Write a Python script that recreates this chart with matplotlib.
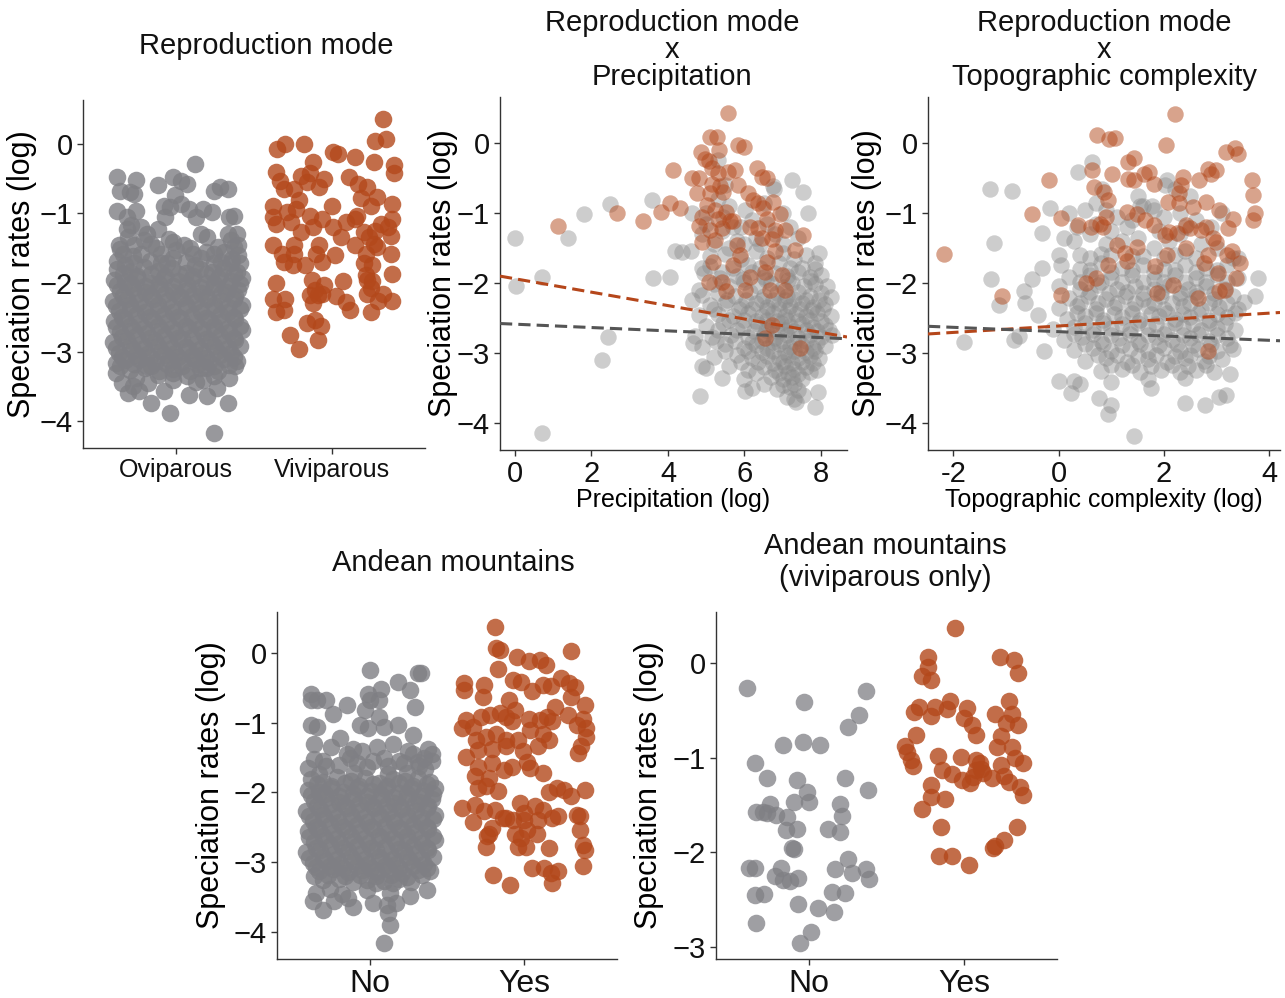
import matplotlib
matplotlib.use('Agg')
import matplotlib.pyplot as plt
import numpy as np

plt.rcParams['font.family'] = ['Liberation Sans', 'DejaVu Sans']

GRAY = '#7f7f84'
ORANGE = '#b3481b'

# ---- data: jittered category panels (offset from category, log rate) ----
# dense core shared by the oviparous / non-Andean clouds
core = [
    (-0.38, -1.80), (-0.30, -1.85), (-0.21, -1.78), (-0.12, -1.83), (-0.03, -1.79), (0.06, -1.86), (0.15, -1.80), (0.23, -1.84), (0.31, -1.79), (0.39, -1.85),
    (-0.40, -1.96), (-0.33, -1.99), (-0.25, -1.93), (-0.17, -2.00), (-0.08, -1.94), (0.01, -1.98), (0.10, -1.95), (0.19, -2.01), (0.27, -1.94), (0.35, -1.98), (0.42, -1.93),
    (-0.36, -2.12), (-0.28, -2.08), (-0.20, -2.14), (-0.11, -2.09), (-0.02, -2.13), (0.07, -2.10), (0.16, -2.15), (0.24, -2.08), (0.32, -2.13), (0.40, -2.10),
    (-0.41, -2.27), (-0.32, -2.24), (-0.24, -2.28), (-0.15, -2.23), (-0.06, -2.27), (0.03, -2.22), (0.12, -2.28), (0.20, -2.24), (0.29, -2.27), (0.37, -2.23),
    (-0.37, -2.41), (-0.29, -2.38), (-0.20, -2.43), (-0.11, -2.39), (-0.02, -2.42), (0.07, -2.37), (0.16, -2.43), (0.25, -2.39), (0.33, -2.42), (0.41, -2.38),
    (-0.40, -2.56), (-0.33, -2.53), (-0.24, -2.58), (-0.15, -2.54), (-0.06, -2.57), (0.03, -2.52), (0.12, -2.58), (0.21, -2.54), (0.29, -2.57), (0.38, -2.53),
    (-0.36, -2.71), (-0.28, -2.68), (-0.19, -2.73), (-0.10, -2.69), (-0.01, -2.72), (0.08, -2.67), (0.17, -2.73), (0.25, -2.69), (0.34, -2.72), (0.42, -2.68),
    (-0.41, -2.86), (-0.32, -2.83), (-0.23, -2.88), (-0.14, -2.84), (-0.05, -2.87), (0.04, -2.82), (0.13, -2.88), (0.22, -2.84), (0.30, -2.87), (0.38, -2.83),
    (-0.37, -3.01), (-0.28, -2.98), (-0.19, -3.03), (-0.10, -2.99), (-0.01, -3.02), (0.08, -2.97), (0.17, -3.03), (0.26, -2.99), (0.35, -3.02),
    (-0.33, -3.12), (-0.24, -3.10), (-0.14, -3.14), (-0.05, -3.11), (0.04, -3.13), (0.12, -3.10), (0.21, -3.15), (0.31, -3.11), (0.39, -3.13),
    (-0.30, -3.26), (-0.20, -3.24), (-0.11, -3.28), (-0.02, -3.25), (0.09, -3.27), (0.19, -3.24), (0.27, -3.28),
    (-0.26, -3.38), (-0.02, -3.40), (0.13, -3.44), (-0.18, -3.45),
]
core_fill = [
    (-0.34, -1.88), (-0.25, -1.90), (-0.16, -1.87), (-0.07, -1.90), (0.02, -1.88), (0.11, -1.91), (0.19, -1.87), (0.28, -1.90), (0.37, -1.88),
    (-0.38, -2.04), (-0.29, -2.02), (-0.20, -2.05), (-0.11, -2.02), (-0.02, -2.05), (0.07, -2.03), (0.15, -2.06), (0.24, -2.02), (0.33, -2.05), (0.41, -2.02),
    (-0.34, -2.19), (-0.25, -2.17), (-0.16, -2.20), (-0.07, -2.17), (0.02, -2.20), (0.11, -2.18), (0.20, -2.21), (0.29, -2.17), (0.38, -2.20),
    (-0.39, -2.34), (-0.30, -2.32), (-0.21, -2.35), (-0.12, -2.32), (-0.03, -2.35), (0.06, -2.33), (0.15, -2.36), (0.24, -2.32), (0.33, -2.35), (0.42, -2.33),
    (-0.35, -2.49), (-0.26, -2.47), (-0.17, -2.50), (-0.08, -2.47), (0.01, -2.50), (0.10, -2.48), (0.19, -2.51), (0.28, -2.47), (0.37, -2.50),
    (-0.39, -2.64), (-0.30, -2.62), (-0.21, -2.65), (-0.12, -2.62), (-0.03, -2.65), (0.06, -2.63), (0.15, -2.66), (0.24, -2.62), (0.33, -2.65), (0.41, -2.62),
    (-0.35, -2.79), (-0.26, -2.77), (-0.17, -2.80), (-0.08, -2.77), (0.01, -2.80), (0.10, -2.78), (0.19, -2.81), (0.28, -2.77), (0.37, -2.80),
    (-0.39, -2.94), (-0.30, -2.92), (-0.21, -2.95), (-0.12, -2.92), (-0.03, -2.95), (0.06, -2.93), (0.15, -2.96), (0.24, -2.92), (0.33, -2.95), (0.41, -2.92),
    (-0.35, -3.07), (-0.26, -3.05), (-0.17, -3.08), (-0.08, -3.05), (0.01, -3.08), (0.10, -3.06), (0.19, -3.09), (0.28, -3.05), (0.37, -3.08),
    (-0.36, -3.20), (-0.27, -3.18), (-0.16, -3.20), (-0.06, -3.18), (0.04, -3.20), (0.14, -3.18), (0.24, -3.21), (0.34, -3.19),
    (-0.36, -1.52), (-0.28, -1.62), (-0.13, -1.50), (-0.02, -1.64), (0.09, -1.50), (0.19, -1.55), (0.31, -1.56), (0.40, -1.45), (-0.33, -1.74),
    (-0.10, -1.72), (0.12, -1.74), (0.24, -1.72), (0.36, -1.66),
]

ovi_outer = [
    (0.12, -0.28), (-0.38, -0.48), (-0.26, -0.52), (-0.36, -0.67), (-0.30, -0.69), (-0.27, -0.72), (-0.12, -0.59), (-0.02, -0.47), (0.03, -0.53), (0.07, -0.58),
    (-0.01, -0.74), (0.24, -0.67), (0.28, -0.62), (0.33, -0.65), (-0.38, -0.96), (-0.26, -0.96), (-0.32, -1.05), (-0.29, -1.17), (-0.08, -0.89), (-0.04, -0.91),
    (0.03, -0.86), (0.08, -0.93), (0.17, -0.93), (0.23, -0.98), (-0.07, -1.05), (0.13, -1.05), (0.37, -1.03), (0.34, -1.05), (-0.32, -1.22), (-0.23, -1.20),
    (-0.19, -1.29), (-0.12, -1.22), (-0.31, -1.34), (-0.37, -1.46), (-0.27, -1.46), (-0.21, -1.39), (-0.16, -1.44), (-0.05, -1.37), (-0.02, -1.41), (0.05, -1.46),
    (0.16, -1.29), (0.20, -1.34), (0.33, -1.29), (0.39, -1.29), (0.35, -1.39), (0.27, -1.49), (0.37, -1.49), (-0.34, -1.58), (-0.23, -1.58), (-0.10, -1.58),
    (0.00, -1.53), (0.11, -1.58), (0.24, -1.58), (0.40, -1.60), (-0.38, -1.68), (-0.27, -1.72), (-0.17, -1.68), (-0.06, -1.72), (0.06, -1.70), (0.16, -1.65),
    (0.29, -1.70), (0.35, -1.72), (0.41, -1.72),
    (0.24, -4.17), (-0.04, -3.89), (-0.16, -3.74), (0.33, -3.74), (0.08, -3.62), (0.20, -3.64), (0.26, -3.52), (-0.08, -3.57), (-0.31, -3.59), (-0.24, -3.57),
    (-0.28, -3.50), (-0.35, -3.45), (0.07, -3.35), (0.17, -3.40), (0.24, -3.35), (0.34, -3.38), (0.38, -3.21), (-0.39, -3.31), (-0.12, -3.33), (-0.02, -3.31),
    (-0.19, -3.21), (-0.39, -3.16), (0.15, -3.23),
]

vivi = [
    (0.33, 0.37), (0.28, 0.05), (0.35, 0.07), (-0.35, -0.07), (-0.30, 0.01), (-0.18, 0.01), (0.01, -0.11), (0.04, -0.14), (0.15, -0.18), (0.27, -0.25),
    (0.40, -0.30), (0.40, -0.41), (-0.12, -0.25), (-0.36, -0.40), (-0.33, -0.53), (-0.31, -0.65), (-0.20, -0.46), (-0.14, -0.41), (-0.16, -0.55), (-0.05, -0.50),
    (0.11, -0.47), (0.17, -0.57), (0.23, -0.62), (0.29, -0.76), (0.19, -0.77), (0.25, -0.89), (-0.24, -0.65), (-0.21, -0.81), (-0.23, -0.93), (-0.38, -0.89),
    (0.39, -0.86), (0.00, -0.89), (-0.08, -0.62), (-0.38, -1.05), (-0.36, -1.15), (-0.29, -0.98), (-0.26, -1.13), (-0.14, -1.03), (-0.06, -1.08), (0.01, -1.20),
    (0.09, -1.13), (0.15, -1.08), (0.16, -1.03), (0.32, -1.15), (0.39, -1.08), (0.36, -1.20), (0.21, -1.27), (0.28, -1.25), (0.24, -1.34), (-0.12, -1.20),
    (-0.20, -1.27), (0.06, -1.34), (0.38, -1.33), (-0.38, -1.46), (-0.24, -1.46), (-0.08, -1.46), (0.15, -1.46), (0.27, -1.44), (0.29, -1.49), (-0.32, -1.58),
    (-0.24, -1.58), (-0.10, -1.58), (0.02, -1.60), (0.22, -1.58), (0.38, -1.58), (-0.31, -1.70), (-0.25, -1.75), (-0.17, -1.75), (-0.06, -1.70), (0.21, -1.72),
    (0.26, -1.75), (0.39, -1.87), (-0.13, -1.96), (0.07, -1.97), (0.22, -1.89), (0.23, -1.96), (0.26, -1.97), (-0.36, -2.01), (-0.11, -2.11), (-0.05, -2.04),
    (0.25, -2.08), (0.23, -2.16), (-0.14, -2.18), (-0.09, -2.18), (-0.06, -2.16), (0.03, -2.20), (0.09, -2.28), (0.33, -2.16), (0.30, -2.26), (0.39, -2.26),
    (-0.38, -2.23), (-0.30, -2.23), (-0.12, -2.30), (0.12, -2.40), (0.25, -2.42), (-0.36, -2.42), (-0.31, -2.40), (-0.16, -2.59), (-0.11, -2.54), (-0.07, -2.63),
    (-0.27, -2.75), (-0.09, -2.83), (-0.21, -2.96),
]

# Andean mountains (all species)
andes_no_extra = [
    (0.00, -0.24), (0.31, -0.29), (0.33, -0.28), (0.18, -0.41), (0.26, -0.53), (0.29, -0.77), (0.07, -0.52), (-0.01, -0.58), (0.00, -0.67), (0.06, -0.67),
    (-0.03, -0.82), (-0.06, -1.03), (-0.01, -1.08), (0.09, -1.06), (0.18, -1.03), (0.06, -0.91), (-0.38, -0.58), (-0.38, -0.67), (-0.34, -0.67), (-0.28, -0.67),
    (-0.24, -0.87), (-0.15, -0.75), (-0.38, -1.03), (-0.34, -1.06), (0.28, -1.18), (-0.11, -1.37), (-0.19, -1.22),
    (-0.36, -1.30), (-0.25, -1.35), (-0.15, -1.45), (-0.05, -1.40), (0.05, -1.35), (0.15, -1.30), (0.25, -1.40), (0.35, -1.50), (-0.30, -1.55), (-0.20, -1.60),
    (-0.08, -1.58), (0.02, -1.55), (0.12, -1.62), (0.22, -1.58), (0.32, -1.62), (0.40, -1.55), (-0.40, -1.65), (0.28, -1.45), (0.38, -1.38),
    (0.09, -4.16), (0.12, -3.73), (0.13, -3.90), (0.11, -3.61), (0.17, -3.58), (0.02, -3.59), (-0.11, -3.64), (-0.30, -3.68), (-0.23, -3.56), (-0.37, -3.56),
    (-0.35, -3.44), (-0.14, -3.52), (0.26, -3.49), (0.37, -3.40), (0.15, -3.30), (0.04, -3.30),
]

andes_yes = [
    (-0.19, 0.38), (-0.18, 0.07), (-0.16, 0.04), (0.30, 0.03), (-0.05, -0.05), (0.03, -0.12), (0.10, -0.10), (0.14, -0.17), (-0.17, -0.23), (-0.39, -0.43),
    (-0.39, -0.53), (-0.26, -0.46), (-0.27, -0.63), (-0.07, -0.39), (-0.02, -0.41), (0.05, -0.55), (0.12, -0.46), (0.17, -0.47), (0.24, -0.36), (0.29, -0.43),
    (0.33, -0.48), (0.30, -0.63), (0.39, -0.75), (0.20, -0.77), (-0.10, -0.67), (-0.06, -0.82), (-0.38, -0.96), (-0.33, -1.06), (-0.40, -1.08), (-0.28, -0.91),
    (-0.22, -0.89), (-0.16, -0.86), (-0.12, -0.91), (-0.08, -0.98), (0.03, -0.94), (0.10, -0.96), (0.15, -0.91), (0.18, -0.98), (0.28, -0.89), (0.38, -0.94),
    (0.40, -1.08), (0.34, -1.03), (-0.31, -1.25), (-0.25, -1.21), (-0.18, -1.16), (-0.12, -1.25), (-0.04, -1.25), (0.04, -1.10), (0.12, -1.16), (0.16, -1.25),
    (0.40, -1.20), (0.37, -1.34), (0.35, -1.44), (-0.38, -1.49), (-0.30, -1.39), (-0.21, -1.37), (-0.12, -1.34), (-0.01, -1.41), (0.09, -1.34), (0.02, -1.56),
    (-0.30, -1.63), (-0.21, -1.58), (-0.13, -1.68), (-0.08, -1.63), (0.04, -1.65), (0.12, -1.72), (-0.32, -1.77), (-0.23, -1.79), (-0.25, -1.91), (-0.30, -1.94),
    (-0.17, -1.98), (0.16, -2.00), (0.21, -1.93), (0.26, -1.96), (0.30, -2.05), (0.39, -1.96), (-0.40, -2.23), (-0.32, -2.18), (-0.26, -2.27), (-0.19, -2.25),
    (-0.12, -2.36), (-0.03, -2.15), (0.00, -2.30), (0.07, -2.19), (0.12, -2.25), (0.22, -2.34), (0.34, -2.32), (0.36, -2.34), (-0.33, -2.42), (-0.21, -2.51),
    (-0.14, -2.37), (-0.07, -2.40), (0.00, -2.40), (0.02, -2.54), (0.09, -2.40), (0.18, -2.37), (-0.23, -2.59), (-0.24, -2.63), (-0.06, -2.59), (-0.02, -2.66),
    (0.08, -2.59), (0.36, -2.54), (-0.25, -2.78), (-0.04, -2.78), (0.01, -2.78), (0.16, -2.80), (0.38, -2.75), (0.39, -2.82), (0.38, -3.06), (0.05, -3.09),
    (0.13, -3.09), (0.17, -3.16), (0.22, -3.13), (0.18, -3.30), (-0.20, -3.18), (-0.09, -3.33),
]

# Andean mountains, viviparous species only
vivi_no = [
    (-0.40, -0.26), (-0.35, -1.06), (-0.27, -1.22), (-0.25, -1.49), (-0.34, -1.57), (-0.30, -1.57), (-0.27, -1.59), (-0.21, -1.61), (-0.14, -1.63), (-0.15, -1.77),
    (-0.08, -1.76), (-0.11, -1.96), (-0.10, -1.97), (-0.17, -0.87), (-0.04, -0.83), (0.07, -0.87), (-0.03, -0.41), (-0.08, -1.24), (-0.01, -1.36), (0.00, -1.47),
    (-0.10, -1.47), (0.25, -0.68), (0.32, -0.55), (0.37, -0.30), (0.23, -1.22), (0.38, -1.34), (0.20, -1.49), (0.21, -1.62), (0.20, -1.79), (0.12, -1.75),
    (-0.39, -2.17), (-0.35, -2.17), (-0.22, -2.25), (-0.18, -2.17), (-0.17, -2.29), (-0.12, -2.31), (-0.07, -2.27), (-0.35, -2.45), (-0.29, -2.44), (-0.07, -2.55),
    (-0.34, -2.75), (0.01, -2.84), (-0.06, -2.96), (0.06, -2.59), (0.16, -2.63), (0.15, -2.42), (0.23, -2.43), (0.17, -2.18), (0.25, -2.07), (0.28, -2.22),
    (0.37, -2.18), (0.39, -2.28),
]
vivi_yes = [
    (-0.06, 0.37), (-0.23, 0.06), (-0.23, -0.04), (-0.27, -0.14), (-0.21, -0.18), (0.23, 0.06), (0.32, 0.03), (0.35, -0.11), (-0.32, -0.52), (-0.29, -0.46),
    (-0.21, -0.56), (-0.19, -0.46), (-0.11, -0.49), (-0.09, -0.40), (0.02, -0.48), (0.00, -0.58), (0.05, -0.65), (0.08, -0.76), (0.20, -0.54), (0.29, -0.40),
    (0.31, -0.54), (0.27, -0.63), (0.35, -0.66), (0.24, -0.77), (0.21, -0.89), (-0.31, -0.76), (-0.38, -0.88), (-0.37, -0.94), (-0.34, -1.03), (-0.33, -1.09),
    (0.31, -0.89), (0.33, -1.00), (0.38, -1.06), (-0.17, -0.98), (-0.02, -0.99), (0.08, -1.03), (0.10, -1.06), (0.11, -1.12), (0.08, -1.13), (0.06, -1.20),
    (0.04, -1.27), (-0.01, -1.24), (0.12, -1.16), (-0.14, -1.13), (-0.08, -1.17), (0.18, -1.22), (0.24, -1.08), (0.26, -1.19), (0.29, -1.26), (0.36, -1.31),
    (0.38, -1.40), (-0.21, -1.29), (-0.21, -1.42), (-0.12, -1.44), (-0.27, -1.54), (-0.15, -1.73), (0.34, -1.73), (0.26, -1.87), (0.20, -1.94), (0.19, -1.96),
    (-0.16, -2.04), (-0.08, -2.04), (0.03, -2.14),
]

# ---- data: continuous predictors (x, log rate) ----
precip_gray = [
    (0.00, -1.35), (0.02, -2.04), (0.70, -1.91), (0.70, -4.15), (1.39, -1.35), (1.81, -1.02), (2.48, -0.87), (2.44, -2.78), (2.27, -3.10), (3.58, -0.81),
    (3.60, -1.93), (4.05, -1.91), (4.18, -1.55), (4.36, -1.56), (4.62, -1.00), (7.23, -0.53), (7.54, -0.70), (7.67, -1.00), (6.75, -0.62), (6.78, -0.66),
    (5.32, -0.24), (6.01, -0.96), (4.84, -3.62), (6.01, -3.55), (7.85, -3.77), (7.93, -3.56), (7.54, -3.61), (7.35, -3.70), (4.88, -3.19), (4.66, -2.86),
    (4.62, -2.24), (4.80, -2.10), (4.88, -1.79), (7.96, -1.57), (7.84, -1.72),
    (5.50, -0.60), (5.60, -0.90), (5.00, -1.00), (4.90, -1.30), (5.80, -1.40), (6.20, -1.10), (6.50, -0.85), (6.80, -1.30), (7.00, -1.00), (7.20, -1.20),
    (6.00, -1.45), (5.20, -1.45), (4.60, -1.55), (5.30, -0.80), (5.70, -1.20), (6.40, -1.45), (7.40, -1.35), (5.45, -1.05),
    (5.10, -1.62), (5.50, -1.58), (5.90, -1.66), (6.30, -1.55), (6.60, -1.64), (7.00, -1.57), (7.30, -1.66), (7.60, -1.60), (6.10, -1.75), (6.90, -1.72), (7.50, -1.78),
    (4.95, -1.86), (5.40, -1.84), (5.80, -1.90), (6.20, -1.85), (6.50, -1.92), (6.80, -1.86), (7.10, -1.90), (7.40, -1.85), (7.70, -1.92), (8.00, -1.88),
    (5.20, -2.02), (5.60, -2.05), (6.00, -1.98), (6.35, -2.04), (6.70, -2.00), (7.00, -2.06), (7.25, -2.00), (7.55, -2.04), (7.85, -2.01), (8.15, -2.05),
    (4.90, -2.17), (5.30, -2.14), (5.75, -2.18), (6.15, -2.13), (6.50, -2.18), (6.85, -2.14), (7.10, -2.19), (7.40, -2.13), (7.70, -2.18), (8.00, -2.15), (8.25, -2.20),
    (5.10, -2.31), (5.50, -2.28), (5.90, -2.33), (6.30, -2.29), (6.60, -2.34), (6.90, -2.29), (7.20, -2.33), (7.50, -2.28), (7.80, -2.34), (8.10, -2.30),
    (4.80, -2.46), (5.30, -2.44), (5.70, -2.48), (6.10, -2.43), (6.45, -2.47), (6.75, -2.43), (7.05, -2.48), (7.35, -2.44), (7.60, -2.48), (7.90, -2.43), (8.25, -2.47),
    (5.00, -2.61), (5.45, -2.58), (5.95, -2.63), (6.35, -2.59), (6.65, -2.63), (6.95, -2.58), (7.20, -2.62), (7.50, -2.59), (7.80, -2.63), (8.10, -2.60),
    (4.70, -2.76), (5.15, -2.78), (5.65, -2.74), (6.10, -2.78), (6.50, -2.74), (6.80, -2.79), (7.10, -2.75), (7.40, -2.79), (7.70, -2.74), (8.00, -2.78), (8.30, -2.75),
    (4.90, -2.91), (5.50, -2.88), (6.00, -2.93), (6.30, -2.89), (6.60, -2.93), (6.90, -2.88), (7.20, -2.92), (7.50, -2.89), (7.80, -2.93), (8.10, -2.90),
    (5.20, -3.06), (5.80, -3.03), (6.20, -3.08), (6.60, -3.04), (6.90, -3.08), (7.15, -3.03), (7.40, -3.07), (7.70, -3.04), (7.95, -3.08),
    (5.00, -3.22), (5.60, -3.19), (6.10, -3.24), (6.50, -3.20), (6.80, -3.24), (7.05, -3.19), (7.30, -3.23), (7.60, -3.20), (7.90, -3.24),
    (5.40, -3.36), (6.00, -3.38), (6.70, -3.34), (7.00, -3.38), (7.25, -3.34), (7.50, -3.37),
    (6.20, -3.50), (6.85, -3.52), (7.20, -3.49), (7.40, -3.53), (7.10, -3.63), (7.30, -3.66),
]
precip_fill = [
    (5.35, -1.93), (5.95, -1.95), (6.55, -1.96), (7.15, -1.96), (7.75, -1.97),
    (5.55, -2.24), (6.05, -2.24), (6.45, -2.25), (6.75, -2.24), (7.05, -2.25), (7.30, -2.23), (7.60, -2.24), (7.95, -2.25),
    (5.20, -2.38), (5.85, -2.38), (6.20, -2.38), (6.60, -2.39), (6.90, -2.38), (7.15, -2.39), (7.45, -2.38), (7.75, -2.39), (8.05, -2.38),
    (5.60, -2.53), (6.00, -2.53), (6.30, -2.54), (6.60, -2.53), (6.85, -2.54), (7.10, -2.53), (7.40, -2.54), (7.70, -2.53), (8.00, -2.54),
    (5.30, -2.68), (5.80, -2.68), (6.25, -2.69), (6.55, -2.68), (6.85, -2.69), (7.05, -2.68), (7.30, -2.69), (7.60, -2.68), (7.90, -2.69), (8.20, -2.68),
    (5.25, -2.83), (5.75, -2.83), (6.20, -2.84), (6.45, -2.83), (6.75, -2.84), (7.00, -2.83), (7.30, -2.84), (7.60, -2.83), (7.90, -2.84),
    (5.50, -2.98), (6.10, -2.98), (6.45, -2.99), (6.75, -2.98), (7.05, -2.99), (7.30, -2.98), (7.60, -2.99), (7.85, -2.98),
    (5.90, -3.13), (6.35, -3.13), (6.75, -3.14), (7.00, -3.13), (7.25, -3.14), (7.50, -3.13), (7.80, -3.14),
    (6.30, -3.29), (6.90, -3.29), (7.15, -3.29), (7.40, -3.30), (7.70, -3.28),
    (6.50, -3.44), (7.00, -3.46), (7.30, -3.44),
    (5.10, -1.76), (5.70, -1.78), (6.40, -1.78), (7.20, -1.78), (7.85, -1.80),
    (5.40, -1.25), (5.90, -1.20), (6.60, -1.15), (5.00, -1.15), (6.30, -1.35), (7.00, -1.45), (5.60, -1.50),
]
precip_orange = [
    (5.58, 0.43), (5.10, 0.09), (5.28, 0.09), (5.34, -0.10), (5.84, -0.02), (6.00, -0.06), (4.86, -0.12), (4.97, -0.23), (5.06, -0.25), (5.14, -0.35),
    (4.14, -0.39), (4.62, -0.50), (4.80, -0.50), (5.32, -0.43), (5.58, -0.41), (5.75, -0.38), (6.34, -0.35), (6.45, -0.49), (6.58, -0.50), (5.14, -0.58),
    (5.36, -0.62), (5.84, -0.60), (4.75, -0.72), (5.10, -0.72), (5.45, -0.70), (6.10, -0.72), (6.23, -0.81), (6.36, -0.86), (6.75, -0.84), (4.05, -0.86),
    (4.32, -0.93), (3.83, -0.98), (3.36, -1.11), (2.66, -1.00), (1.12, -1.19), (5.01, -0.89), (5.23, -0.96), (5.53, -0.98), (6.49, -0.93), (6.93, -1.02),
    (4.88, -1.05), (5.32, -1.08), (5.62, -1.12), (6.58, -1.08), (6.14, -1.20), (6.36, -1.22), (4.80, -1.19), (5.10, -1.24), (5.40, -1.22), (5.71, -1.12),
    (7.06, -1.24), (6.80, -1.24), (7.54, -1.32), (4.88, -1.41), (5.23, -1.39), (6.45, -1.36), (6.71, -1.37), (5.80, -1.46), (6.80, -1.55), (7.32, -1.53),
    (5.88, -1.60), (5.19, -1.70), (5.71, -1.74), (6.58, -1.70), (6.54, -1.84), (6.14, -1.91), (6.97, -1.89), (5.06, -1.98), (5.40, -1.98), (5.53, -2.12),
    (6.01, -2.10), (6.67, -2.10), (7.06, -2.10), (6.54, -2.79), (7.45, -2.93), (6.71, -2.60),
]
precip_fit_gray = (-2.59, -0.024)      # intercept, slope
precip_fit_orange = (-1.94, -0.096)

topo_gray = [
    (-1.30, -0.66), (-0.89, -0.69), (-1.23, -1.43), (-1.29, -1.95), (-1.14, -2.31), (-1.80, -2.84), (-0.84, -2.81), (-0.75, -2.76), (-0.66, -2.12), (-0.63, -2.28),
    (-0.50, -1.95), (-0.32, -1.79), (-0.32, -1.29), (-0.16, -0.93), (-0.28, -2.98), (-0.40, -2.46), (0.00, -3.40), (0.23, -3.57), (0.77, -3.64), (0.93, -3.88),
    (1.00, -3.74), (1.43, -4.19), (0.64, -0.27), (0.36, -0.41), (0.82, -0.66), (2.40, -3.72), (2.78, -3.75), (3.05, -3.63), (3.17, -3.60), (3.79, -1.93),
    (3.73, -2.19), (3.51, -2.27), (3.40, -1.65), (2.02, -0.60), (2.05, -0.53), (1.77, -0.90), (1.55, -0.90),
    (0.50, -0.95), (0.70, -0.85), (0.90, -0.95), (1.10, -1.05), (1.40, -1.10), (1.60, -0.90), (1.80, -0.95), (2.00, -1.05), (2.30, -1.00), (2.50, -0.75),
    (2.20, -0.65), (1.50, -0.75), (0.20, -1.00), (0.35, -1.20), (1.00, -1.25), (2.60, -1.10), (2.90, -1.20), (3.10, -1.00),
    (0.10, -1.35), (0.30, -1.40), (0.60, -1.30), (0.90, -1.45), (1.20, -1.40), (1.50, -1.35), (1.80, -1.50), (2.10, -1.40), (2.40, -1.55), (2.70, -1.45),
    (3.00, -1.50), (3.30, -1.65), (0.00, -1.60), (0.40, -1.60), (0.80, -1.58), (1.60, -1.62), (2.00, -1.65), (2.30, -1.30),
    (0.05, -1.75), (0.40, -1.80), (0.80, -1.72), (1.20, -1.78), (1.60, -1.74), (2.00, -1.80), (2.40, -1.75), (2.80, -1.79), (3.20, -1.74),
    (0.20, -1.92), (0.60, -1.88), (1.00, -1.93), (1.40, -1.89), (1.80, -1.94), (2.20, -1.88), (2.60, -1.93), (3.00, -1.89), (3.40, -1.93),
    (0.00, -2.05), (0.40, -2.08), (0.75, -2.03), (1.10, -2.08), (1.45, -2.04), (1.80, -2.09), (2.10, -2.03), (2.45, -2.08), (2.80, -2.04), (3.15, -2.09),
    (0.20, -2.21), (0.55, -2.18), (0.90, -2.23), (1.25, -2.19), (1.60, -2.23), (1.95, -2.18), (2.30, -2.22), (2.60, -2.18), (2.95, -2.23), (3.30, -2.19),
    (0.00, -2.36), (0.35, -2.33), (0.70, -2.38), (1.05, -2.34), (1.40, -2.38), (1.70, -2.33), (2.00, -2.37), (2.35, -2.33), (2.70, -2.38), (3.05, -2.34), (3.40, -2.37),
    (0.15, -2.51), (0.50, -2.48), (0.85, -2.53), (1.20, -2.49), (1.55, -2.53), (1.90, -2.48), (2.20, -2.52), (2.50, -2.49), (2.85, -2.53), (3.20, -2.49),
    (-0.10, -2.66), (0.30, -2.63), (0.65, -2.68), (1.00, -2.64), (1.35, -2.68), (1.70, -2.63), (2.05, -2.67), (2.35, -2.63), (2.70, -2.68), (3.00, -2.64), (3.35, -2.67),
    (0.10, -2.81), (0.45, -2.78), (0.80, -2.83), (1.15, -2.79), (1.50, -2.83), (1.85, -2.78), (2.15, -2.82), (2.50, -2.79), (2.85, -2.83), (3.20, -2.79),
    (0.30, -2.96), (0.65, -2.93), (1.00, -2.98), (1.35, -2.94), (1.70, -2.98), (2.00, -2.93), (2.30, -2.97), (2.65, -2.94), (3.00, -2.98), (3.30, -2.94),
    (0.50, -3.11), (0.90, -3.08), (1.30, -3.13), (1.70, -3.09), (2.05, -3.13), (2.40, -3.08), (2.75, -3.12), (3.10, -3.09),
    (0.80, -3.26), (1.20, -3.23), (1.55, -3.28), (1.95, -3.24), (2.30, -3.28), (2.60, -3.24), (2.95, -3.27), (3.25, -3.30),
    (0.30, -3.40), (1.00, -3.42), (1.70, -3.38), (1.75, -3.50), (2.40, -3.36), (0.40, -3.45),
]
topo_fill = [
    (0.60, -1.82), (1.00, -1.84), (1.40, -1.82), (1.80, -1.84), (2.20, -1.82), (2.60, -1.84), (3.00, -1.82),
    (0.40, -1.98), (0.80, -1.98), (1.20, -1.99), (1.60, -1.98), (2.00, -1.99), (2.40, -1.98), (2.80, -1.99), (3.20, -1.98),
    (0.60, -2.13), (0.95, -2.14), (1.30, -2.13), (1.60, -2.14), (1.95, -2.13), (2.30, -2.14), (2.60, -2.13), (2.95, -2.14),
    (0.40, -2.28), (0.75, -2.28), (1.10, -2.29), (1.45, -2.28), (1.80, -2.29), (2.15, -2.28), (2.50, -2.29), (2.85, -2.28), (3.20, -2.29),
    (0.35, -2.43), (0.70, -2.43), (1.05, -2.44), (1.40, -2.43), (1.75, -2.44), (2.05, -2.43), (2.35, -2.44), (2.65, -2.43), (3.00, -2.44), (3.35, -2.43),
    (0.50, -2.58), (0.85, -2.58), (1.20, -2.59), (1.50, -2.58), (1.85, -2.59), (2.20, -2.58), (2.55, -2.59), (2.85, -2.58), (3.15, -2.59),
    (0.30, -2.73), (0.65, -2.73), (1.00, -2.74), (1.35, -2.73), (1.70, -2.74), (2.00, -2.73), (2.35, -2.74), (2.65, -2.73), (3.00, -2.74),
    (0.50, -2.88), (0.85, -2.88), (1.20, -2.89), (1.55, -2.88), (1.90, -2.89), (2.25, -2.88), (2.55, -2.89), (2.90, -2.88), (3.25, -2.89),
    (0.75, -3.03), (1.10, -3.03), (1.50, -3.04), (1.85, -3.03), (2.20, -3.04), (2.50, -3.03), (2.85, -3.04),
    (1.00, -3.18), (1.40, -3.18), (1.75, -3.19), (2.15, -3.18), (2.45, -3.19), (2.80, -3.18),
    (0.60, -1.65), (1.00, -1.60), (1.40, -1.62), (2.20, -1.60), (2.60, -1.65), (0.70, -1.15), (1.30, -1.20), (1.90, -1.25), (2.40, -1.20),
]
topo_orange = [
    (2.20, 0.42), (0.73, 0.11), (0.96, 0.06), (1.07, 0.07), (2.04, -0.03), (3.18, -0.12), (3.34, -0.07), (3.40, -0.15), (1.31, -0.27), (1.43, -0.21),
    (0.64, -0.39), (1.02, -0.44), (1.62, -0.44), (1.72, -0.42), (1.81, -0.58), (1.31, -0.51), (1.43, -0.53), (-0.19, -0.53), (0.67, -0.63), (0.86, -0.70),
    (0.93, -0.82), (2.36, -0.48), (2.33, -0.60), (2.29, -0.72), (2.67, -0.53), (2.83, -0.37), (2.99, -0.38), (2.89, -0.44), (3.66, -0.53), (3.69, -0.74),
    (3.72, -1.00), (3.69, -1.10), (2.07, -0.84), (2.29, -0.86), (2.54, -0.91), (2.80, -0.84), (3.05, -0.96), (-0.50, -1.01), (0.04, -1.07), (0.36, -1.17),
    (0.62, -1.20), (0.78, -1.15), (0.84, -1.20), (0.90, -1.05), (1.29, -0.98), (1.48, -1.01), (1.64, -1.10), (1.80, -1.17), (2.02, -1.31), (2.09, -1.27),
    (2.25, -1.29), (2.41, -1.17), (2.50, -1.22), (2.70, -1.24), (2.79, -1.20), (2.92, -1.36), (2.98, -1.41), (3.21, -1.22), (3.30, -1.08), (1.10, -1.46),
    (1.26, -1.57), (1.29, -1.69), (1.48, -1.48), (2.05, -1.60), (2.41, -1.50), (2.76, -1.72), (2.83, -1.60), (3.19, -1.60), (3.28, -1.55), (3.44, -1.72),
    (0.93, -1.74), (1.83, -1.76), (0.70, -1.93), (0.51, -2.00), (3.37, -1.93), (2.16, -2.03), (3.02, -1.86), (3.05, -2.12), (3.15, -2.10), (0.04, -2.17),
    (-1.07, -2.18), (-2.18, -1.58), (2.64, -2.22), (2.83, -2.97), (1.86, -2.15),
]
topo_fit_gray = (-2.697, -0.031)
topo_fit_orange = (-2.616, 0.046)

W, H = 1285, 998
fig = plt.figure(figsize=(W / 100, H / 100), dpi=100)


def make_ax(left, top, right, bottom):
    ax = fig.add_axes([left / W, 1 - bottom / H, (right - left) / W, (bottom - top) / H])
    for s in ['top', 'right']:
        ax.spines[s].set_visible(False)
    for s in ['left', 'bottom']:
        ax.spines[s].set_color('#333333')
        ax.spines[s].set_linewidth(1.0)
    ax.tick_params(colors='#333333', length=4, width=1, labelcolor='#111111', labelsize=21)
    return ax


def jitter(ax, pts, pos, color, alpha, s=160):
    off = np.array([p[0] for p in pts])
    y = np.array([p[1] for p in pts])
    ax.scatter(pos + off, y, s=s, color=color, alpha=alpha, linewidths=0, zorder=2)


def scatter(ax, pts, color, alpha, s=140):
    x = np.array([p[0] for p in pts])
    y = np.array([p[1] for p in pts])
    ax.scatter(x, y, s=s, color=color, alpha=alpha, linewidths=0, zorder=2)


def fit_line(ax, fit, color, xlim):
    xs = np.array(xlim)
    ax.plot(xs, fit[0] + fit[1] * xs, color=color, lw=2.2, dashes=(4, 2), zorder=3)


# panel 1: reproduction mode
ax1 = make_ax(83, 100, 425, 448)
jitter(ax1, core + core_fill + ovi_outer, 1, GRAY, 0.8)
jitter(ax1, vivi, 2, ORANGE, 0.8)
ax1.set_xlim(0.4, 2.6)
ax1.set_ylim(-4.39, 0.64)
ax1.set_xticks([1, 2])
ax1.set_xticklabels(['Oviparous', 'Viviparous'], fontsize=18)
ax1.set_yticks([0, -1, -2, -3, -4])
ax1.set_ylabel('Speciation rates (log)', fontsize=22)
ax1.yaxis.set_label_coords(-0.135, 0.5)

# panel 2: precipitation
ax2 = make_ax(500, 97, 847, 450)
xl2 = (-0.39, 8.68)
scatter(ax2, precip_gray + precip_fill, '#8a8a8a', 0.42)
scatter(ax2, precip_orange, ORANGE, 0.5)
fit_line(ax2, precip_fit_orange, '#b5461a', xl2)
fit_line(ax2, precip_fit_gray, '#555555', xl2)
ax2.set_xlim(*xl2)
ax2.set_ylim(-4.39, 0.66)
ax2.set_xticks([0, 2, 4, 6, 8])
ax2.set_yticks([0, -1, -2, -3, -4])
ax2.set_xlabel('Precipitation (log)', fontsize=18, labelpad=0)
ax2.set_ylabel('Speciation rates (log)', fontsize=22)
ax2.yaxis.set_label_coords(-0.121, 0.5)

# panel 3: topographic complexity
ax3 = make_ax(928, 97, 1280, 450)
xl3 = (-2.48, 4.2)
scatter(ax3, topo_gray + topo_fill, '#8a8a8a', 0.42)
scatter(ax3, topo_orange, ORANGE, 0.5)
fit_line(ax3, topo_fit_orange, '#b5461a', xl3)
fit_line(ax3, topo_fit_gray, '#555555', xl3)
ax3.set_xlim(*xl3)
ax3.set_ylim(-4.39, 0.66)
ax3.set_xticks([-2, 0, 2, 4])
ax3.set_xticklabels(['-2', '0', '2', '4'])
ax3.set_yticks([0, -1, -2, -3, -4])
ax3.set_xlabel('Topographic complexity (log)', fontsize=18, labelpad=0)
ax3.set_ylabel('Speciation rates (log)', fontsize=22)
ax3.yaxis.set_label_coords(-0.131, 0.5)

# panel 4: Andean mountains
ax4 = make_ax(277, 612, 617, 959)
jitter(ax4, core + core_fill + andes_no_extra, 1, GRAY, 0.8)
jitter(ax4, andes_yes, 2, ORANGE, 0.8)
ax4.set_xlim(0.4, 2.6)
ax4.set_ylim(-4.39, 0.59)
ax4.set_xticks([1, 2])
ax4.set_xticklabels(['No', 'Yes'], fontsize=23)
ax4.set_yticks([0, -1, -2, -3, -4])
ax4.set_ylabel('Speciation rates (log)', fontsize=22)
ax4.yaxis.set_label_coords(-0.15, 0.5)

# panel 5: Andean mountains, viviparous only
ax5 = make_ax(716, 612, 1057, 959)
jitter(ax5, vivi_no, 1, GRAY, 0.75)
jitter(ax5, vivi_yes, 2, ORANGE, 0.8)
ax5.set_xlim(0.4, 2.6)
ax5.set_ylim(-3.13, 0.54)
ax5.set_xticks([1, 2])
ax5.set_xticklabels(['No', 'Yes'], fontsize=23)
ax5.set_yticks([0, -1, -2, -3])
ax5.set_ylabel('Speciation rates (log)', fontsize=22)
ax5.yaxis.set_label_coords(-0.152, 0.5)

# titles
tkw = dict(ha='center', va='center', fontsize=21, color='#111111', linespacing=0.95)
fig.text(266 / W, 1 - 46 / H, 'Reproduction mode', **tkw)
fig.text(672 / W, 1 - 50 / H, 'Reproduction mode\nx\nPrecipitation', **tkw)
fig.text(1104 / W, 1 - 50 / H, 'Reproduction mode\nx\nTopographic complexity', **tkw)
fig.text(453 / W, 1 - 563 / H, 'Andean mountains', **tkw)
tkw['linespacing'] = 1.15
fig.text(885 / W, 1 - 562 / H, 'Andean mountains\n(viviparous only)', **tkw)

fig.savefig('out.png', dpi=100, facecolor='white')
